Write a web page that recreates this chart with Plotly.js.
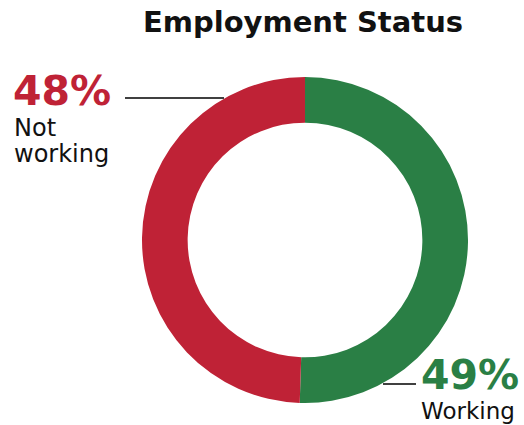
<!DOCTYPE html>
<html>
<head>
<meta charset="utf-8">
<script src="https://cdn.plot.ly/plotly-3.0.1.min.js"></script>
<style>html,body{margin:0;padding:0;background:#fff;}#chart{width:524px;height:425px;}</style>
</head>
<body>
<div id="chart"></div>
<script>
const categories = ["Working", "Not working"];
const values = [49, 48];
const pctLabels = ["49%", "48%"];
const colors = ["#2A7F45", "#BF2236"];
const chartTitle = "Employment Status";

const W = 524, H = 425;
const cx = 305, cy = 240, R = 163;

const trace = {
  type: "pie",
  labels: categories,
  values: values,
  hole: 0.72,
  sort: false,
  direction: "clockwise",
  rotation: 0,
  marker: {colors: colors, line: {width: 0}},
  textinfo: "none",
  hoverinfo: "label+value",
  domain: {x: [(cx - R) / W, (cx + R) / W], y: [(H - cy - R) / H, (H - cy + R) / H]}
};

const bigFont = {family: "DejaVu Sans", size: 41, weight: 700};
const smallFont = {family: "DejaVu Sans", size: 24, color: "#111"};

function ann(text, x, y, font) {
  return {text: text, xref: "paper", yref: "paper", x: x / W, y: 1 - y / H,
          xanchor: "left", yanchor: "middle", showarrow: false, font: font};
}

const notWorking = categories[1].split(" ");

const layout = {
  width: W, height: H,
  margin: {l: 0, r: 0, t: 0, b: 0},
  paper_bgcolor: "#fff",
  showlegend: false,
  title: {text: "<b>" + chartTitle + "</b>", font: {family: "DejaVu Sans", size: 29, color: "#111"},
          x: 303 / W, xanchor: "center", y: 1 - 22 / H, yanchor: "middle"},
  annotations: [
    ann("<b>" + pctLabels[1] + "</b>", 11, 90.8, Object.assign({color: colors[1]}, bigFont)),
    ann(notWorking[0], 12, 127.7, smallFont),
    ann(notWorking[1], 12, 153.7, smallFont),
    ann("<b>" + pctLabels[0] + "</b>", 419, 375.3, Object.assign({color: colors[0]}, bigFont)),
    ann(categories[0], 419, 411, Object.assign({}, smallFont, {size: 23}))
  ],
  shapes: [
    {type: "line", xref: "paper", yref: "paper", x0: 125 / W, x1: 224 / W, y0: 1 - 98 / H, y1: 1 - 98 / H,
     line: {color: "#000", width: 1.5}},
    {type: "line", xref: "paper", yref: "paper", x0: 383 / W, x1: 416 / W, y0: 1 - 384 / H, y1: 1 - 384 / H,
     line: {color: "#000", width: 1.5}}
  ]
};

Plotly.newPlot("chart", [trace], layout, {displayModeBar: false, staticPlot: true});
</script>
</body>
</html>
